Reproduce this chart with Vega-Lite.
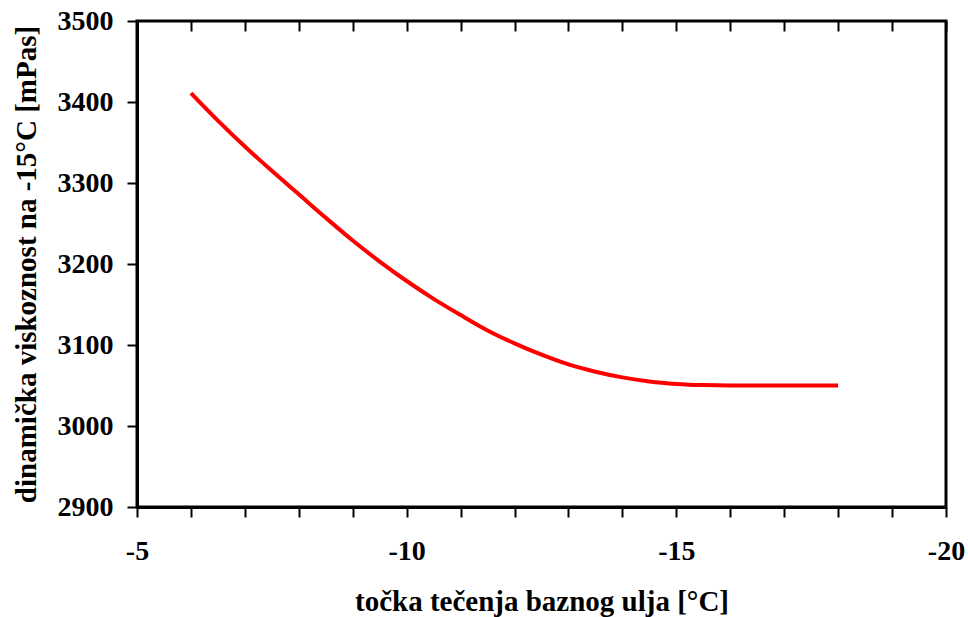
{
  "$schema": "https://vega.github.io/schema/vega-lite/v6.json",
  "width": 809,
  "height": 486,
  "autosize": {"type": "none"},
  "padding": {"left": 137, "top": 21, "right": 22, "bottom": 110},
  "background": "white",
  "config": {
    "view": {"stroke": "black", "strokeWidth": 3}
  },
  "data": {
    "values": [
      {"t": -6, "v": 3411},
      {"t": -6.5, "v": 3377},
      {"t": -7, "v": 3345},
      {"t": -7.5, "v": 3315},
      {"t": -8, "v": 3286},
      {"t": -8.5, "v": 3257},
      {"t": -9, "v": 3229},
      {"t": -9.5, "v": 3203},
      {"t": -10, "v": 3179},
      {"t": -10.5, "v": 3157},
      {"t": -11, "v": 3137},
      {"t": -11.5, "v": 3118},
      {"t": -12, "v": 3102},
      {"t": -12.5, "v": 3088},
      {"t": -13, "v": 3076},
      {"t": -13.5, "v": 3067},
      {"t": -14, "v": 3060},
      {"t": -14.5, "v": 3055},
      {"t": -15, "v": 3052},
      {"t": -15.5, "v": 3050.5},
      {"t": -16, "v": 3050},
      {"t": -16.5, "v": 3050},
      {"t": -17, "v": 3050},
      {"t": -17.5, "v": 3050},
      {"t": -18, "v": 3050}
    ]
  },
  "resolve": {"axis": {"x": "independent"}},
  "layer": [
    {
      "mark": {"type": "line", "color": "#FF0000", "strokeWidth": 4, "interpolate": "monotone"},
      "encoding": {
        "x": {
          "field": "t", "type": "quantitative",
          "scale": {"domain": [-5, -20], "nice": false, "zero": false},
          "axis": {
            "values": [-5, -6, -7, -8, -9, -10, -11, -12, -13, -14, -15, -16, -17, -18, -19, -20],
            "labelExpr": "datum.value % 5 === 0 ? toString(datum.value) : ''",
            "labelFont": "Times New Roman",
            "labelFontWeight": 700,
            "labelFontSize": 28,
            "labelColor": "black",
            "titleFont": "Times New Roman",
            "titleFontWeight": 700,
            "titleFontSize": 29,
            "titleColor": "black",
            "grid": false,
            "domainColor": "black",
            "domainWidth": 3,
            "tickColor": "black",
            "tickWidth": 2,
            "tickSize": 10,
            "labelPadding": 20,
            "title": "točka tečenja baznog ulja [°C]",
            "titlePadding": 22,
            "labelFlush": false,
            "labelOverlap": false
          }
        },
        "y": {
          "field": "v", "type": "quantitative",
          "scale": {"domain": [2900, 3500], "nice": false, "zero": false},
          "axis": {
            "values": [2900, 3000, 3100, 3200, 3300, 3400, 3500],
            "labelExpr": "toString(datum.value)",
            "labelFont": "Times New Roman",
            "labelFontWeight": 700,
            "labelFontSize": 28,
            "labelColor": "black",
            "titleFont": "Times New Roman",
            "titleFontWeight": 700,
            "titleFontSize": 29,
            "titleColor": "black",
            "grid": false,
            "domainColor": "black",
            "domainWidth": 3,
            "tickColor": "black",
            "tickWidth": 2,
            "tickSize": 10,
            "labelPadding": 14,
            "title": "dinamička viskoznost na -15°C [mPas]",
            "titlePadding": 16,
            "labelFlush": false,
            "labelOverlap": false
          }
        }
      }
    },
    {
      "mark": {"type": "line", "opacity": 0},
      "encoding": {
        "x": {
          "field": "t", "type": "quantitative",
          "axis": {
            "values": [-5, -6, -7, -8, -9, -10, -11, -12, -13, -14, -15, -16, -17, -18, -19, -20],
            "labels": false,
            "domain": false,
            "grid": false,
            "tickColor": "black",
            "tickWidth": 2,
            "tickSize": 10,
            "offset": -10,
            "title": null
          }
        },
        "y": {"field": "v", "type": "quantitative"}
      }
    }
  ]
}
